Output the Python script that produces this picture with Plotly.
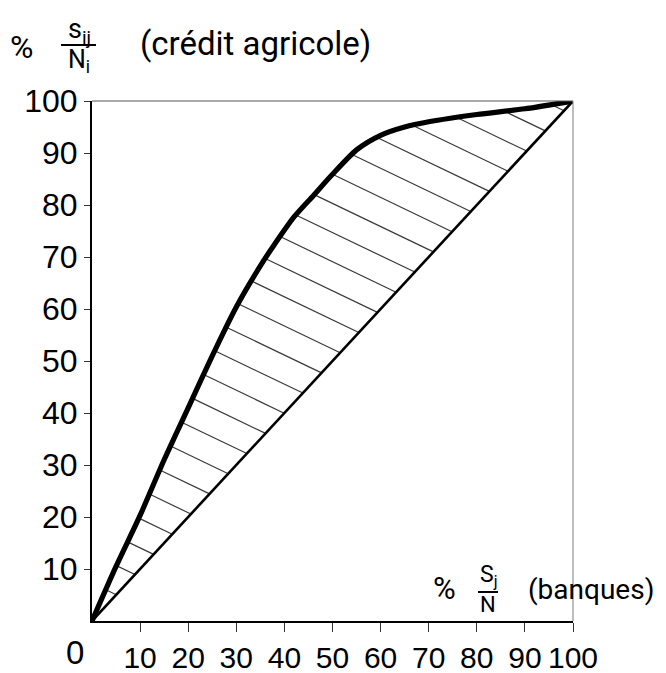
import numpy as np
import plotly.graph_objects as go

# ---------------- data ----------------
banques_pct = [0, 5, 10, 15, 20, 25, 30, 35, 38, 42, 46, 50, 55, 60, 65, 70, 80, 90, 100]
credit_agricole_pct = [0, 10.5, 20.3, 31, 41, 51, 60.4, 68.3, 72.5, 77.7, 81.8, 85.9,
                       90.6, 93.4, 95.0, 96.0, 97.4, 98.5, 100]
equality_x = [0, 100]
equality_y = [0, 100]
tick_values = [10, 20, 30, 40, 50, 60, 70, 80, 90, 100]
tick_labels = ["10", "20", "30", "40", "50", "60", "70", "80", "90", "100"]

# ---------------- style ----------------
OFF = 8                                  # default page body margin
W, H = 666 - OFF, 673 - OFF
L, R, T, B = 92, 573, 101, 621           # plot area in screen pixels
HATCH_SLOPE = 0.444                      # hatch lines go down-right (data units)
HATCH_STEP = 5.6
HATCH_PHASE = 1.7
DIGIT_FONT = "Liberation Sans, Roboto, sans-serif"
TEXT_FONT = "Roboto, Liberation Sans, sans-serif"


def P(px, py):
    return (px - L) / (R - L), (B - py) / (B - T)


# ---------------- hatch segments between curve and diagonal ----------------
cx = np.array(banques_pct, float)
cy = np.array(credit_agricole_pct, float)
g = cy + HATCH_SLOPE * cx                # monotone along the curve
hx, hy = [], []
b = HATCH_PHASE
while b < g[-1]:
    xc = np.interp(b, g, cx)
    yc = b - HATCH_SLOPE * xc
    xd = b / (1 + HATCH_SLOPE)
    yd = xd
    if xd - xc > 0.3:
        hx += [xc, xd, None]
        hy += [yc, yd, None]
    b += HATCH_STEP

fig = go.Figure()
fig.add_trace(go.Scatter(x=hx, y=hy, mode="lines",
                         line=dict(color="#3a3a3a", width=1.2),
                         hoverinfo="skip", cliponaxis=False))
fig.add_trace(go.Scatter(x=equality_x, y=equality_y, mode="lines",
                         line=dict(color="black", width=2.6), cliponaxis=False))
fig.add_trace(go.Scatter(x=banques_pct, y=credit_agricole_pct, mode="lines",
                         line=dict(color="black", width=5.2, shape="spline", smoothing=0.7),
                         cliponaxis=False))

axis_common = dict(range=[0, 100], showgrid=False, zeroline=False, showline=True,
                   linecolor="black", linewidth=2, ticks="outside",
                   tickcolor="#333", tickwidth=1.3, tickvals=tick_values,
                   ticktext=tick_labels, tickangle=0, automargin=False)
fig.update_xaxes(**axis_common, ticklen=9,
                 tickfont=dict(family=DIGIT_FONT, size=30, color="black"))
fig.update_yaxes(**axis_common, ticklen=6,
                 tickfont=dict(family=DIGIT_FONT, size=32, color="black"))

shapes = [
    dict(type="line", xref="x domain", yref="y domain", x0=0, x1=1, y0=1, y1=1,
         line=dict(color="#555", width=1.2)),
    dict(type="line", xref="x domain", yref="y domain", x0=1, x1=1, y0=0, y1=1,
         line=dict(color="#888", width=1.1)),
]
# fraction bars
for (x0, x1, yy) in [(61, 96, 45), (478, 498, 592)]:
    a0, b0 = P(x0, yy)
    a1, _ = P(x1, yy)
    shapes.append(dict(type="line", xref="paper", yref="paper", x0=a0, x1=a1,
                       y0=b0, y1=b0, line=dict(color="black", width=2)))

ann = []


def add_text(text, px, py, size, family=TEXT_FONT):
    ax_, ay_ = P(px, py)
    ann.append(dict(text=text, x=ax_, y=ay_, xref="paper", yref="paper",
                    xanchor="center", yanchor="middle", showarrow=False,
                    font=dict(family=family, size=size, color="black")))


add_text("%", 21.5, 47, 32)
add_text("s<sub>ij</sub>", 79, 31, 27)
add_text("N<sub>i</sub>", 79, 61, 25)
add_text("(crédit agricole)", 255, 44, 33)
add_text("%", 444, 588, 31)
add_text("S<sub>j</sub>", 489, 576, 23)
add_text("N", 488, 604, 22)
add_text("(banques)", 591, 589, 28)
add_text("0", 74.5, 652, 33, DIGIT_FONT)

fig.update_layout(width=W, height=H,
                  margin=dict(l=L - OFF, r=W - (R - OFF), t=T - OFF, b=H - (B - OFF)),
                  paper_bgcolor="white", plot_bgcolor="white", showlegend=False,
                  shapes=shapes, annotations=ann)

fig.write_html("out.html")
